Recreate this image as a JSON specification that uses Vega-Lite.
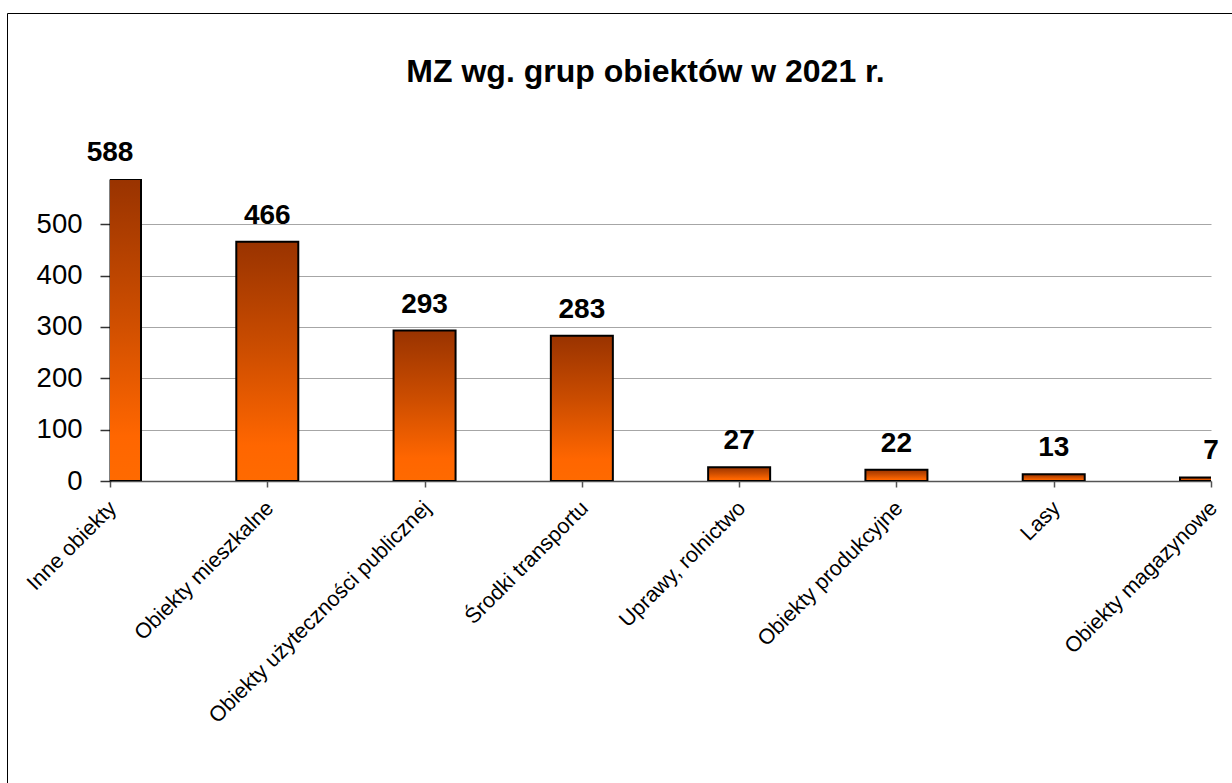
{
  "$schema": "https://vega.github.io/schema/vega-lite/v6.json",
  "autosize": "none",
  "width": 1101,
  "height": 302,
  "padding": {"left": 110, "top": 179, "right": 21, "bottom": 302},
  "background": "white",
  "config": {
    "view": {"stroke": null},
    "font": "Liberation Sans"
  },
  "title": {
    "text": "MZ wg. grup obiektów w 2021 r.",
    "font": "Liberation Sans",
    "fontSize": 32,
    "fontWeight": "bold",
    "color": "black",
    "anchor": "middle",
    "frame": "group",
    "baseline": "alphabetic",
    "dx": -15,
    "offset": -101
  },
  "data": {
    "values": [
      {"grupa": "Inne obiekty", "liczba": 588},
      {"grupa": "Obiekty mieszkalne", "liczba": 466},
      {"grupa": "Obiekty użyteczności publicznej", "liczba": 293},
      {"grupa": "Środki transportu", "liczba": 283},
      {"grupa": "Uprawy, rolnictwo", "liczba": 27},
      {"grupa": "Obiekty produkcyjne", "liczba": 22},
      {"grupa": "Lasy", "liczba": 13},
      {"grupa": "Obiekty magazynowe", "liczba": 7}
    ]
  },
  "encoding": {
    "x": {
      "field": "grupa",
      "type": "ordinal",
      "sort": null,
      "scale": {"type": "point", "padding": 0},
      "axis": {
        "title": null,
        "labelAngle": -45,
        "labelFontSize": 21.5,
        "labelColor": "black",
        "labelFont": "Liberation Sans",
        "labelLimit": 0,
        "labelPadding": 10,
        "labelOffset": -5,
        "domainColor": "#555555",
        "domainWidth": 1.5,
        "tickColor": "#555555",
        "tickSize": 6,
        "tickWidth": 1.5,
        "grid": false
      }
    },
    "y": {
      "field": "liczba",
      "type": "quantitative",
      "scale": {"domain": [0, 588], "nice": false},
      "axis": {
        "title": null,
        "values": [0, 100, 200, 300, 400, 500],
        "labelFontSize": 27.5,
        "labelColor": "black",
        "labelFont": "Liberation Sans",
        "labelPadding": 18,
        "domainColor": "black",
        "domainWidth": 2,
        "tickColor": "#333333",
        "tickSize": 10,
        "tickWidth": 1.5,
        "grid": true,
        "gridColor": "#A6A6A6",
        "gridWidth": 1
      }
    }
  },
  "layer": [
    {
      "mark": {
        "type": "bar",
        "width": 62,
        "clip": true,
        "stroke": "black",
        "strokeWidth": 2,
        "color": {
          "gradient": "linear",
          "x1": 0, "y1": 0, "x2": 0, "y2": 1,
          "stops": [
            {"offset": 0, "color": "#993300"},
            {"offset": 0.45, "color": "#CC4D00"},
            {"offset": 0.85, "color": "#FF6600"},
            {"offset": 1, "color": "#FF6A00"}
          ]
        }
      }
    },
    {
      "mark": {
        "type": "text",
        "font": "Liberation Sans",
        "fontSize": 28,
        "fontWeight": "bold",
        "color": "black",
        "baseline": "alphabetic",
        "dy": -18
      },
      "encoding": {
        "text": {"field": "liczba", "type": "quantitative"},
        "opacity": {
          "datum": "ramka",
          "type": "ordinal",
          "scale": {"range": [1, 1]},
          "legend": {
            "orient": "none",
            "legendX": -103,
            "legendY": -166,
            "padding": 700,
            "strokeColor": "black",
            "title": null,
            "labelExpr": "''",
            "labelOpacity": 0,
            "symbolSize": 0,
            "symbolOpacity": 0,
            "symbolStrokeWidth": 0
          }
        }
      }
    }
  ]
}
